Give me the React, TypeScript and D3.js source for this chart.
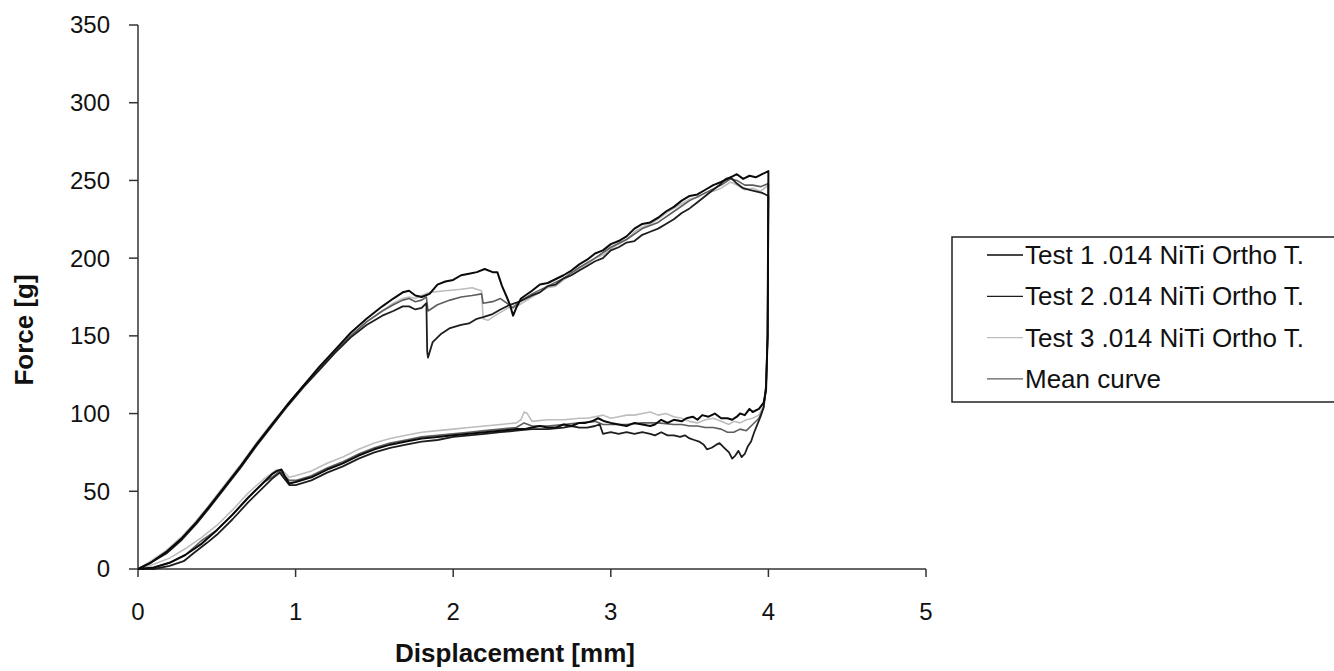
import * as d3 from "d3";

type Pt = [number, number];

// displacement [mm], force [g], loading branch then unloading branch
const test1: Pt[] = [
  [0, 0], [0.08, 4], [0.18, 11], [0.28, 20], [0.37, 30], [0.45, 40], [0.55, 53], [0.65, 66],
  [0.75, 80], [0.85, 93], [0.95, 106], [1.05, 118], [1.15, 130], [1.25, 141], [1.35, 152],
  [1.45, 161], [1.55, 169], [1.62, 174], [1.68, 178], [1.72, 179], [1.76, 176], [1.8, 175],
  [1.85, 177], [1.9, 183], [1.95, 185], [2.0, 186], [2.05, 189], [2.1, 190], [2.15, 191],
  [2.2, 193], [2.25, 191], [2.28, 191], [2.31, 182], [2.34, 175], [2.36, 170], [2.38, 163],
  [2.4, 168], [2.43, 174], [2.5, 179], [2.55, 183], [2.6, 184], [2.7, 189], [2.75, 192],
  [2.8, 196], [2.85, 199], [2.9, 203], [2.95, 205], [3.0, 209], [3.05, 211], [3.1, 214],
  [3.15, 219], [3.2, 222], [3.25, 223], [3.3, 226], [3.35, 230], [3.4, 233], [3.45, 237],
  [3.5, 240], [3.55, 241], [3.6, 244], [3.65, 247], [3.7, 249], [3.76, 252], [3.8, 254],
  [3.84, 251], [3.88, 253], [3.92, 252], [3.96, 254], [4.0, 256],
  [3.995, 150], [3.985, 115], [3.97, 107], [3.94, 103], [3.9, 101], [3.88, 103], [3.85, 99],
  [3.82, 100], [3.8, 98], [3.77, 96], [3.74, 97], [3.7, 97], [3.66, 100], [3.62, 98],
  [3.58, 99], [3.55, 96], [3.52, 98], [3.48, 97], [3.45, 95], [3.4, 96], [3.36, 94],
  [3.32, 96], [3.28, 93], [3.25, 92], [3.2, 93], [3.15, 94], [3.1, 92], [3.05, 93],
  [3.0, 94], [2.96, 95], [2.92, 97], [2.88, 95], [2.84, 94], [2.8, 94], [2.75, 92],
  [2.7, 93], [2.65, 91], [2.6, 91], [2.55, 92], [2.5, 91], [2.45, 90], [2.4, 90],
  [2.3, 89], [2.2, 88], [2.1, 87], [2.0, 86], [1.9, 85], [1.8, 84], [1.7, 82], [1.6, 80],
  [1.5, 77], [1.4, 73], [1.3, 68], [1.2, 64], [1.1, 59], [1.0, 56], [0.96, 55], [0.93, 60],
  [0.91, 64], [0.88, 63], [0.85, 61], [0.8, 56], [0.7, 46], [0.6, 35], [0.5, 25], [0.4, 16],
  [0.3, 9], [0.2, 4], [0.1, 1], [0, 0],
];

const test2: Pt[] = [
  [0, 0], [0.08, 4], [0.18, 10], [0.28, 19], [0.37, 29], [0.45, 39], [0.55, 52], [0.65, 65],
  [0.75, 79], [0.85, 92], [0.95, 105], [1.05, 117], [1.15, 128], [1.25, 139], [1.35, 149],
  [1.45, 157], [1.55, 163], [1.62, 166], [1.68, 169], [1.72, 169], [1.76, 167], [1.8, 168],
  [1.83, 171], [1.835, 140], [1.84, 136], [1.87, 146], [1.92, 151], [1.98, 155], [2.05, 157],
  [2.1, 158], [2.15, 161], [2.19, 162], [2.25, 164], [2.3, 167], [2.36, 170], [2.42, 172],
  [2.5, 176], [2.55, 178], [2.6, 182], [2.65, 183], [2.7, 187], [2.75, 189], [2.8, 192],
  [2.85, 195], [2.9, 198], [2.95, 200], [3.0, 205], [3.05, 207], [3.1, 210], [3.15, 211],
  [3.2, 215], [3.25, 217], [3.3, 219], [3.35, 222], [3.4, 225], [3.45, 229], [3.5, 232],
  [3.55, 236], [3.6, 240], [3.65, 244], [3.69, 247], [3.73, 251], [3.76, 252], [3.8, 248],
  [3.84, 245], [3.88, 244], [3.92, 243], [3.96, 242], [4.0, 240],
  [3.995, 150], [3.985, 118], [3.97, 104], [3.95, 98], [3.93, 93], [3.91, 88], [3.89, 82],
  [3.87, 79], [3.85, 74], [3.83, 72], [3.81, 76], [3.79, 73], [3.77, 71], [3.75, 75],
  [3.72, 78], [3.69, 81], [3.67, 80], [3.64, 78], [3.61, 77], [3.59, 80], [3.56, 82],
  [3.53, 83], [3.5, 84], [3.47, 86], [3.44, 85], [3.4, 86], [3.36, 86], [3.32, 88],
  [3.28, 86], [3.25, 87], [3.2, 88], [3.15, 87], [3.1, 88], [3.05, 87], [3.0, 88],
  [2.95, 87], [2.93, 93], [2.9, 92], [2.85, 91], [2.8, 91], [2.75, 92], [2.7, 91],
  [2.6, 90], [2.5, 90], [2.4, 89], [2.3, 88], [2.2, 87], [2.1, 86], [2.0, 85], [1.9, 83],
  [1.8, 82], [1.7, 80], [1.6, 78], [1.5, 75], [1.4, 71], [1.3, 66], [1.2, 62], [1.1, 57],
  [1.0, 54], [0.96, 54], [0.93, 58], [0.9, 62], [0.85, 58], [0.8, 53], [0.7, 43],
  [0.6, 32], [0.5, 22], [0.44, 17], [0.35, 10], [0.29, 5], [0.2, 2], [0.1, 0], [0, 0],
];

const test3: Pt[] = [
  [0, 0], [0.08, 5], [0.18, 12], [0.28, 21], [0.37, 31], [0.45, 41], [0.55, 54], [0.65, 67],
  [0.75, 81], [0.85, 94], [0.95, 106], [1.05, 118], [1.15, 129], [1.25, 140], [1.35, 150],
  [1.45, 159], [1.55, 166], [1.62, 171], [1.68, 174], [1.72, 175], [1.76, 174], [1.8, 176],
  [1.85, 178], [1.95, 179], [2.05, 180], [2.12, 181], [2.18, 179], [2.19, 161], [2.22, 160],
  [2.28, 164], [2.35, 168], [2.42, 170], [2.5, 175], [2.55, 178], [2.6, 181], [2.65, 182],
  [2.7, 186], [2.75, 189], [2.8, 193], [2.85, 196], [2.9, 200], [2.95, 202], [3.0, 206],
  [3.05, 209], [3.1, 212], [3.15, 217], [3.2, 220], [3.25, 222], [3.3, 225], [3.35, 229],
  [3.4, 232], [3.45, 235], [3.5, 238], [3.55, 239], [3.6, 242], [3.65, 243], [3.7, 245],
  [3.76, 249], [3.8, 247], [3.85, 244], [3.9, 245], [3.95, 243], [4.0, 247],
  [3.995, 150], [3.985, 118], [3.97, 105], [3.94, 99], [3.9, 97], [3.86, 96], [3.82, 94],
  [3.78, 95], [3.75, 93], [3.7, 95], [3.65, 97], [3.6, 96], [3.55, 94], [3.5, 95],
  [3.45, 97], [3.4, 98], [3.35, 100], [3.3, 99], [3.25, 101], [3.2, 100], [3.15, 99],
  [3.1, 99], [3.05, 98], [3.0, 97], [2.95, 99], [2.9, 98], [2.85, 97], [2.8, 97],
  [2.7, 96], [2.6, 96], [2.5, 95], [2.47, 100], [2.45, 101], [2.43, 96], [2.4, 94],
  [2.3, 93], [2.2, 92], [2.1, 91], [2.0, 90], [1.9, 89], [1.8, 88], [1.7, 86], [1.6, 84],
  [1.5, 81], [1.4, 77], [1.3, 72], [1.2, 68], [1.1, 63], [1.0, 60], [0.96, 59], [0.92, 63],
  [0.88, 64], [0.8, 58], [0.7, 49], [0.6, 38], [0.5, 28], [0.4, 20], [0.3, 13], [0.2, 7],
  [0.1, 3], [0, 0],
];

const meanCurve: Pt[] = [
  [0, 0], [0.08, 4], [0.18, 11], [0.28, 20], [0.37, 30], [0.45, 40], [0.55, 53], [0.65, 66],
  [0.75, 80], [0.85, 93], [0.95, 106], [1.05, 118], [1.15, 129], [1.25, 140], [1.35, 150],
  [1.45, 159], [1.55, 166], [1.62, 170], [1.68, 173], [1.72, 174], [1.76, 172], [1.8, 173],
  [1.83, 175], [1.84, 166], [1.9, 170], [1.98, 173], [2.05, 175], [2.12, 176], [2.18, 177],
  [2.19, 171], [2.25, 172], [2.3, 174], [2.34, 171], [2.38, 168], [2.42, 172], [2.5, 177],
  [2.6, 182], [2.7, 187], [2.8, 194], [2.9, 200], [3.0, 207], [3.1, 212], [3.2, 219],
  [3.3, 223], [3.4, 230], [3.5, 237], [3.6, 242], [3.7, 247], [3.76, 251], [3.8, 250],
  [3.85, 247], [3.9, 247], [3.95, 246], [4.0, 248],
  [3.995, 150], [3.985, 116], [3.97, 104], [3.94, 97], [3.9, 93], [3.86, 89], [3.82, 90],
  [3.78, 88], [3.74, 88], [3.7, 90], [3.65, 91], [3.6, 91], [3.55, 92], [3.5, 92],
  [3.45, 93], [3.4, 93], [3.3, 94], [3.2, 94], [3.1, 93], [3.0, 93], [2.95, 93],
  [2.9, 95], [2.8, 94], [2.7, 93], [2.6, 92], [2.5, 92], [2.45, 94], [2.4, 91],
  [2.3, 90], [2.2, 89], [2.1, 88], [2.0, 87], [1.9, 86], [1.8, 85], [1.7, 83], [1.6, 81],
  [1.5, 78], [1.4, 74], [1.3, 69], [1.2, 65], [1.1, 60], [1.0, 57], [0.96, 57], [0.93, 60],
  [0.9, 63], [0.85, 59], [0.8, 56], [0.7, 46], [0.6, 35], [0.5, 25], [0.4, 18], [0.3, 9],
  [0.2, 4], [0.1, 1], [0, 0],
];

const seriesNames = [
  "Test 1 .014 NiTi Ortho T.",
  "Test 2 .014 NiTi Ortho T.",
  "Test 3 .014 NiTi Ortho T.",
  "Mean curve",
];
const seriesColors = ["#0a0a0a", "#1e1e1e", "#bdbdbd", "#5e5e5e"];
const seriesWidths = [2, 1.8, 1.6, 1.6];
const xTicks = [0, 1, 2, 3, 4, 5];
const yTicks = [0, 50, 100, 150, 200, 250, 300, 350];

const W = 1334;
const H = 671;
const font = "Arial, 'Liberation Sans', sans-serif";

export default function App() {
  const x = d3.scaleLinear().domain([0, 5]).range([138, 926]);
  const y = d3.scaleLinear().domain([0, 350]).range([569, 25]);
  const line = d3
    .line<Pt>()
    .x((d) => x(d[0]))
    .y((d) => y(d[1]));

  const all = [test1, test2, test3, meanCurve];
  const drawOrder = [2, 3, 1, 0];

  return (
    <svg
      width={W}
      height={H}
      style={{ position: "absolute", left: 0, top: 0, background: "#fff" }}
      fontFamily={font}
    >
      {/* axes */}
      <line x1={x(0)} x2={x(0)} y1={y(0)} y2={y(350)} stroke="#333" strokeWidth={1.5} />
      <line x1={x(0)} x2={x(5)} y1={y(0)} y2={y(0)} stroke="#333" strokeWidth={1.5} />
      {yTicks.map((t) => (
        <g key={"y" + t}>
          <line x1={x(0) - 9} x2={x(0)} y1={y(t)} y2={y(t)} stroke="#333" strokeWidth={1.5} />
          <text x={110} y={y(t)} dy="0.35em" textAnchor="end" fontSize={24} fill="#111">
            {t}
          </text>
        </g>
      ))}
      {xTicks.map((t) => (
        <g key={"x" + t}>
          <line x1={x(t)} x2={x(t)} y1={y(0)} y2={y(0) + 8} stroke="#333" strokeWidth={1.5} />
          <text x={x(t)} y={620} textAnchor="middle" fontSize={24} fill="#111">
            {t}
          </text>
        </g>
      ))}
      <text x={515} y={662} textAnchor="middle" fontSize={26} fontWeight="bold" fill="#111">
        Displacement [mm]
      </text>
      <text
        transform={`translate(33, 330) rotate(-90)`}
        textAnchor="middle"
        fontSize={26}
        fontWeight="bold"
        fill="#111"
      >
        Force [g]
      </text>

      {/* curves */}
      {drawOrder.map((i) => (
        <path
          key={i}
          d={line(all[i]) ?? ""}
          fill="none"
          stroke={seriesColors[i]}
          strokeWidth={seriesWidths[i]}
          strokeLinejoin="round"
        />
      ))}

      {/* legend */}
      <rect x={952} y={237} width={400} height={165} fill="#fff" stroke="#222" strokeWidth={1.5} />
      {seriesNames.map((n, i) => (
        <g key={n}>
          <line
            x1={987}
            x2={1023}
            y1={255 + i * 41.3}
            y2={255 + i * 41.3}
            stroke={seriesColors[i]}
            strokeWidth={1.3}
          />
          <text x={1025} y={255 + i * 41.3} dy="0.35em" fontSize={26} fill="#111">
            {n}
          </text>
        </g>
      ))}
    </svg>
  );
}
